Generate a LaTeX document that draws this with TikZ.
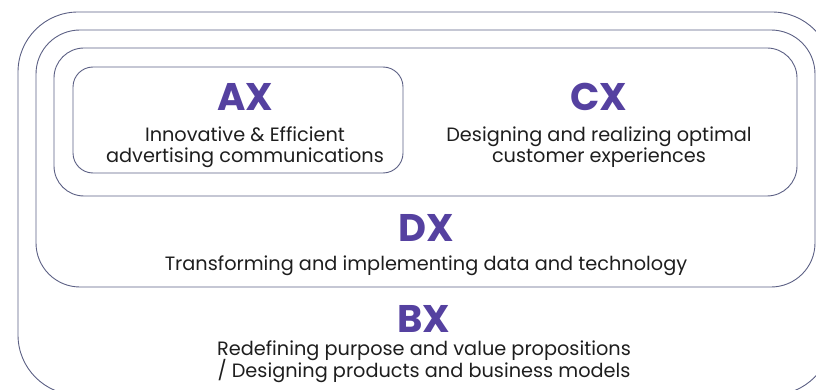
\documentclass[tikz,border=0pt]{standalone}
\usepackage{fontspec}
\setmainfont{Poppins}
\definecolor{xpurple}{RGB}{85,65,160}
\definecolor{framegray}{RGB}{92,96,132}
\definecolor{bodyblack}{RGB}{30,30,30}
\newcommand\xtextfont{\fontsize{19.3}{21.5}\selectfont\lineskiplimit-20pt\relax}
\tikzset{
	layer/.style={draw=framegray, line width=0.9pt},
	xhead/.style={font=\bfseries\fontsize{38.5}{38.5}\selectfont, text=xpurple, inner sep=0pt},
	xtext/.style={font=\xtextfont, align=center, text=bodyblack, inner sep=0pt, anchor=base},
}
\begin{document}
\begin{tikzpicture}[x=1pt,y=-1pt]
		\useasboundingbox (0,0) rectangle (816,390);
		
		\draw[layer, rounded corners=60pt] (18,12) rectangle (832,395);
		\draw[layer, rounded corners=44pt] (36,30) rectangle (815,287);
		\draw[layer, rounded corners=30pt] (54,48) rectangle (797,196);
		\draw[layer, rounded corners=20pt] (73,67) rectangle (403,173);
		
		\node[xhead] (ax) at (245,97) {AX};
		\node[xtext] (axtext) at (245,163) {Innovative \& Efficient\\advertising communications};
		
		\node[xhead] (cx) at (599,97) {CX};
		\node[xtext] (cxtext) at (599,163) {Designing and realizing optimal\\customer experiences};
		
		\node[xhead] (dx) at (426,228) {DX};
		\node[xtext] (dxtext) at (426,270) {Transforming and implementing data and technology};
		
		\node[xhead] (bx) at (424,319) {BX};
		\node[xtext] (bxtext) at (424,377) {Redefining purpose and value propositions\\/ Designing products and business models};
\end{tikzpicture}
\end{document}
